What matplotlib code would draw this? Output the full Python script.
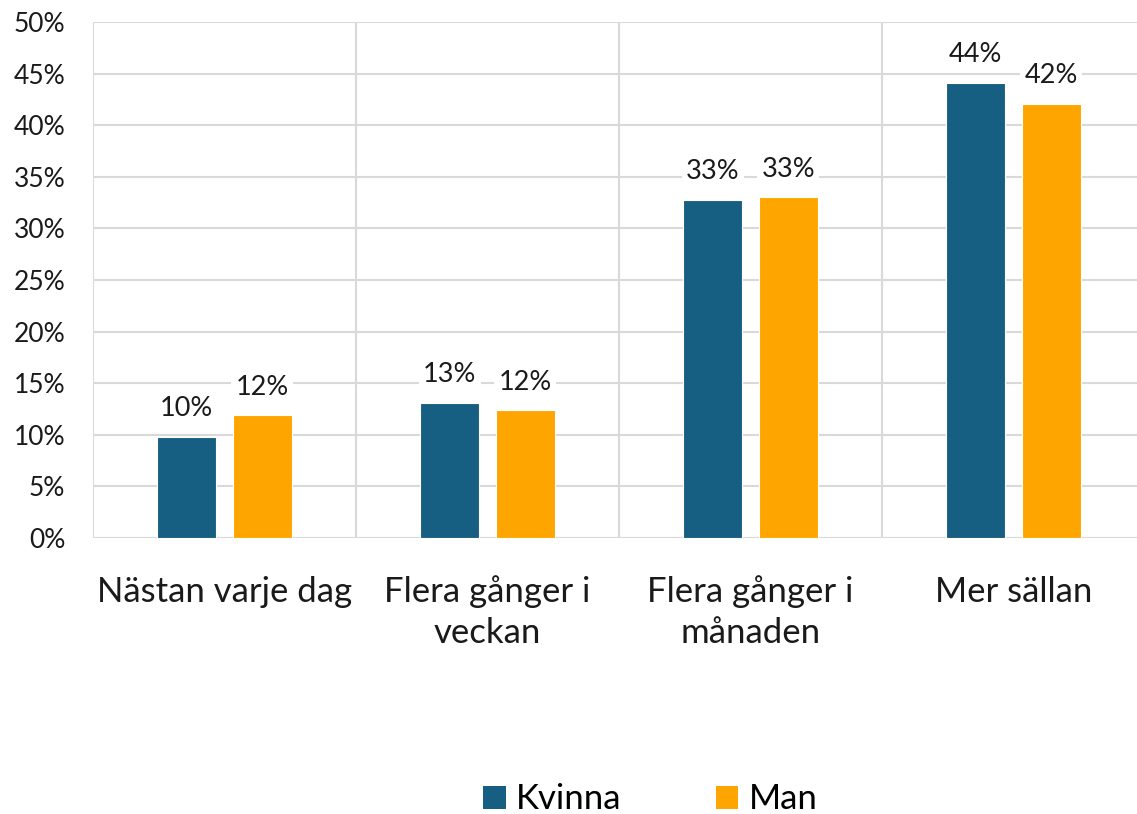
import numpy as np
import matplotlib
matplotlib.use("Agg")
import matplotlib.pyplot as plt
from matplotlib.patches import Patch

# data
categories = ["Nästan varje dag", "Flera gånger i\nveckan", "Flera gånger i\nmånaden", "Mer sällan"]
kvinna = [9.8, 13.1, 32.8, 44.1]
man = [11.9, 12.4, 33.0, 42.1]
series_names = ["Kvinna", "Man"]
colors = ["#175f82", "#ffa500"]

plt.rcParams["font.family"] = ["Lato", "DejaVu Sans"]

fig = plt.figure(figsize=(11.37, 8.14), dpi=100)
ax = fig.add_axes([93 / 1137, 1 - 538 / 814, 1052 / 1137, 516 / 814])

x = np.arange(len(categories))
w = 0.225
off = 0.143
grid_c = "#d9d9d9"

for vals, dx, col in [(kvinna, -off, colors[0]), (man, off, colors[1])]:
    bars = ax.bar(x + dx, vals, width=w, color=col, edgecolor="white", linewidth=0.8, zorder=3)
    for b, v in zip(bars, vals):
        ax.text(b.get_x() + b.get_width() / 2, v + 1.5, f"{round(v)}%", ha="center", va="bottom",
                fontsize=19.5, color="#1a1a1a", zorder=4,
                bbox=dict(facecolor="white", edgecolor="none", pad=3))

ax.set_xlim(-0.5, len(categories) - 0.5)
ax.set_ylim(0, 50)
ax.set_yticks(np.arange(0, 51, 5))
ax.set_yticklabels([f"{t}%" for t in range(0, 51, 5)], fontsize=19, color="#1a1a1a")
ax.set_xticks(x)
ax.set_xticklabels(categories, fontsize=25, color="#1a1a1a", linespacing=1.35)
ax.tick_params(axis="both", length=0)
ax.tick_params(axis="y", pad=20)
ax.tick_params(axis="x", pad=27)

ax.yaxis.grid(True, color=grid_c, linewidth=1.5, zorder=0)
for b in np.arange(0.5, len(categories) - 0.5, 1):
    ax.axvline(b, color=grid_c, linewidth=1.5, zorder=0)
for s in ax.spines.values():
    s.set_visible(False)
ax.axvline(-0.5, color=grid_c, linewidth=1.5, zorder=0)
ax.axhline(0, color=grid_c, linewidth=1.5, zorder=2)

handles = [Patch(facecolor=c, edgecolor="none") for c in colors]
fig.legend(handles, series_names, loc="center", bbox_to_anchor=(0.572, 0.018), ncol=2, frameon=False,
           fontsize=25, handlelength=0.65, handleheight=0.65, handletextpad=0.3, columnspacing=2.7)

fig.savefig("out.png", dpi=100)
